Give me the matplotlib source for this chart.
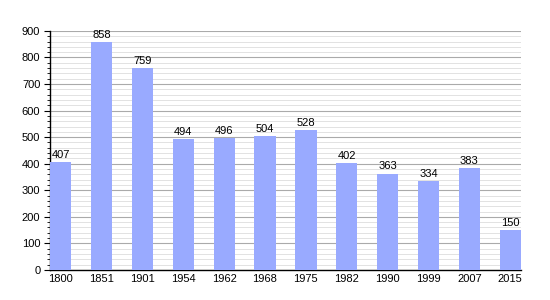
import numpy as np
import matplotlib.pyplot as plt
from matplotlib.ticker import MultipleLocator

years = ['1800', '1851', '1901', '1954', '1962', '1968', '1975', '1982', '1990', '1999', '2007', '2015']
population = [407, 858, 759, 494, 496, 504, 528, 402, 363, 334, 383, 150]

plt.rcParams['font.family'] = ['Liberation Sans', 'DejaVu Sans']

fig = plt.figure(figsize=(5.5, 3), dpi=100)
ax = fig.add_axes([0.091, 0.1, 0.856, 0.797])

x = np.arange(len(years))
w = 0.52
ax.bar(x, population, width=w, align='edge', color='#99aaff', zorder=3)
for xi, v in zip(x, population):
    ax.text(xi + w / 2, v + 8, str(v), ha='center', va='bottom', fontsize=8, zorder=4)

ax.set_xlim(0, len(years) - 1 + w)
ax.set_ylim(0, 900)
ax.set_xticks(x + w / 2)
ax.set_xticklabels(years, fontsize=8)
ax.tick_params(axis='x', length=0, pad=3)
ax.yaxis.set_major_locator(MultipleLocator(100))
ax.yaxis.set_minor_locator(MultipleLocator(20))
ax.tick_params(axis='y', which='major', length=4, labelsize=8, pad=3)
ax.tick_params(axis='y', which='minor', length=2)
ax.grid(axis='y', which='major', color='#aaaaaa', lw=0.8, zorder=0)
ax.grid(axis='y', which='minor', color='#dddddd', lw=0.6, zorder=0)
for s in ['top', 'right']:
    ax.spines[s].set_visible(False)
ax.spines['left'].set_linewidth(1)
ax.spines['bottom'].set_linewidth(1)

fig.savefig('out.png', dpi=100)
